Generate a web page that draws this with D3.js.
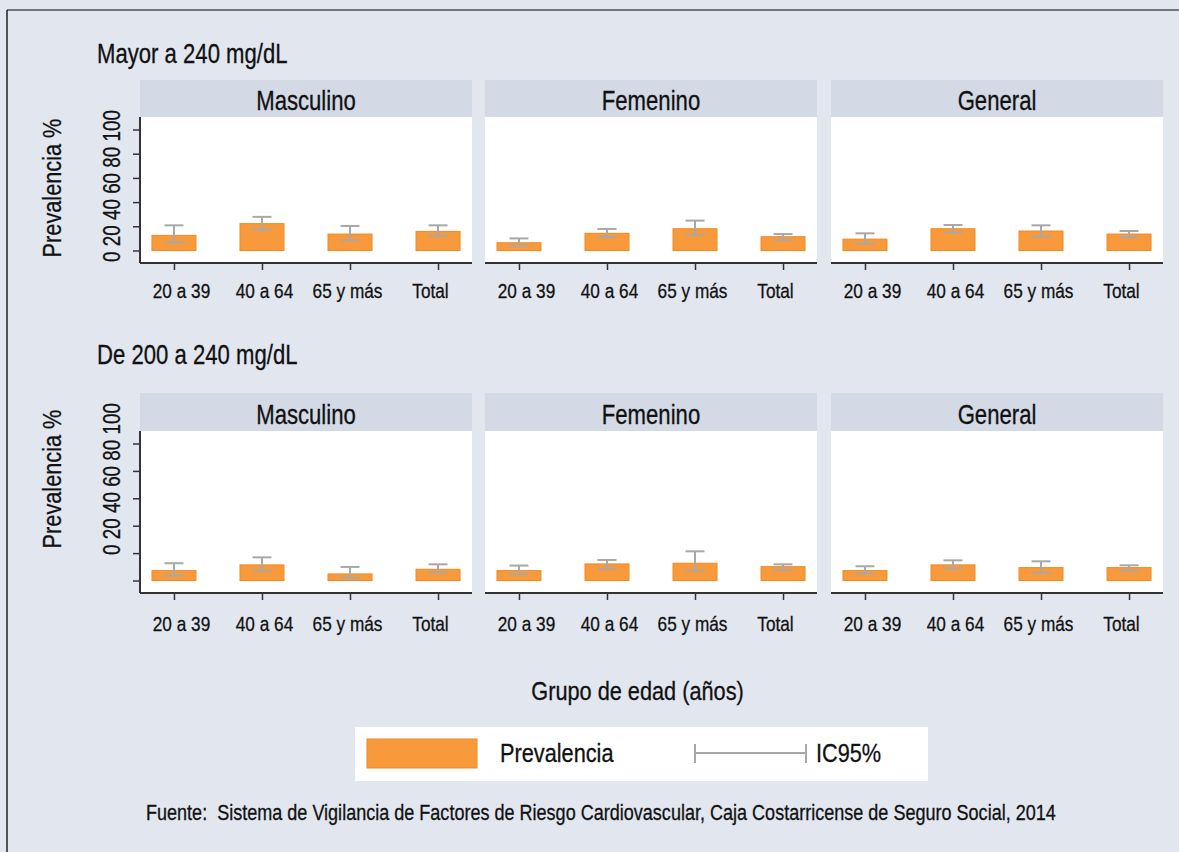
<!DOCTYPE html>
<html>
<head>
<meta charset="utf-8">
<script src="https://cdn.jsdelivr.net/npm/d3@7"></script>
<style>
  html, body { margin: 0; padding: 0; background: #e1e6ef; }
  svg { display: block; }
  text { font-family: "Liberation Sans", Arial, sans-serif; fill: #111; stroke: #111; stroke-width: 0.3px; }
</style>
</head>
<body>
<script>
// Age groups shown on the x axis of every panel
const ageGroups = ["20 a 39", "40 a 64", "65 y más", "Total"];
// Panel columns
const sexes = ["Masculino", "Femenino", "General"];
// Panel rows (cholesterol level)
const levels = ["Mayor a 240 mg/dL", "De 200 a 240 mg/dL"];
// Y tick values / labels
const yTicks = [0, 20, 40, 60, 80, 100];

// Prevalence (%) and 95% CI, one inner array per column: Masculino, Femenino, General
const mayorPrev = [[12.5, 22.2, 13.6, 15.8], [6.4, 14.2, 18.0, 11.4], [9.4, 18.0, 16.1, 13.6]];
const mayorLow  = [[6.7, 17.2, 8.3, 12.2],  [3.9, 11.1, 13.0, 8.6],  [5.8, 14.7, 11.7, 11.1]];
const mayorHigh = [[20.8, 27.8, 20.3, 20.8], [10.0, 17.8, 24.7, 13.6], [14.2, 21.1, 20.8, 16.1]];

const dePrev = [[7.2, 11.4, 4.8, 8.2], [7.2, 12.1, 12.6, 10.1], [7.2, 11.4, 9.4, 9.4]];
const deLow  = [[3.6, 7.2, 1.9, 6.0],  [4.8, 8.7, 7.2, 7.7],   [5.1, 8.9, 5.6, 7.2]];
const deHigh = [[12.6, 16.9, 9.9, 11.8], [10.9, 15.0, 21.3, 11.8], [10.4, 14.7, 14.0, 11.1]];

const rowData = [
  { prev: mayorPrev, low: mayorLow, high: mayorHigh },
  { prev: dePrev, low: deLow, high: deHigh }
];

const W = 1179, H = 852;
const BG = "#e1e6ef", STRIP = "#d3d9e5";
const BAR_FILL = "#f89a3b", BAR_STROKE = "#f08a22", CI_COLOR = "#a8a8a8";
// horizontal squeeze that turns the sans face into a narrow one
const NARROW = 0.82;

const svg = d3.select("body").append("svg").attr("width", W).attr("height", H);
svg.append("rect").attr("width", W).attr("height", H).attr("fill", BG);

// narrow text placed at (x, y), optionally rotated
function label(parent, x, y, str, size, anchor = "start", rot = 0) {
  return parent.append("text")
    .attr("transform", `translate(${x},${y}) rotate(${rot}) scale(${NARROW},1)`)
    .attr("text-anchor", anchor).attr("font-size", size)
    .attr("xml:space", "preserve").style("white-space", "pre")
    .text(str);
}

// frame lines
svg.append("line").attr("x1", 7).attr("x2", W).attr("y1", 10).attr("y2", 10)
  .attr("stroke", "#777").attr("stroke-width", 2);
svg.append("line").attr("x1", 7).attr("x2", 7).attr("y1", 10).attr("y2", H)
  .attr("stroke", "#222").attr("stroke-width", 1.5);

// panel geometry
const panelX = [140, 485, 831];
const panelW = 332;
const rows = [
  { titleY: 63, stripTop: 80, plotTop: 117, plotBottom: 263, yMid: 186, labelY: 298 },
  { titleY: 364, stripTop: 393, plotTop: 431, plotBottom: 593, yMid: 479, labelY: 631 }
];
const yPad = 12.5;

rows.forEach((r, ri) => {
  const d = rowData[ri];
  label(svg, 97, r.titleY, levels[ri], 27);

  const y = d3.scaleLinear().domain([0, 100])
    .range([r.plotBottom - yPad, r.plotTop + yPad]);

  sexes.forEach((sex, si) => {
    const x0 = panelX[si];
    const g = svg.append("g");
    // strip
    g.append("rect").attr("x", x0).attr("y", r.stripTop)
      .attr("width", panelW).attr("height", r.plotTop - r.stripTop).attr("fill", STRIP);
    label(g, x0 + panelW / 2, r.plotTop - 7, sex, 27, "middle");
    // plot region
    g.append("rect").attr("x", x0).attr("y", r.plotTop)
      .attr("width", panelW).attr("height", r.plotBottom - r.plotTop).attr("fill", "#fff");

    // bar positions, and the slightly tighter run of category labels
    const x = d3.scalePoint().domain(ageGroups).range([x0, x0 + panelW]).padding(0.386);
    const xl = d3.scalePoint().domain(ageGroups).range([x0, x0 + panelW]).padding(0.5);
    const bw = x.step() * 0.5;

    // bars
    g.selectAll("rect.bar").data(ageGroups).join("rect")
      .attr("class", "bar")
      .attr("x", a => x(a) - bw / 2)
      .attr("width", bw)
      .attr("y", (a, i) => y(d.prev[si][i]))
      .attr("height", (a, i) => y(0) - y(d.prev[si][i]))
      .attr("fill", BAR_FILL).attr("stroke", BAR_STROKE).attr("stroke-width", 1);

    // confidence intervals
    const capW = 19;
    const ci = g.selectAll("g.ci").data(ageGroups).join("g").attr("class", "ci")
      .attr("stroke", CI_COLOR).attr("stroke-width", 2);
    ci.append("line").attr("x1", a => x(a)).attr("x2", a => x(a))
      .attr("y1", (a, i) => y(d.low[si][i])).attr("y2", (a, i) => y(d.high[si][i]));
    ci.append("line").attr("x1", a => x(a) - capW / 2).attr("x2", a => x(a) + capW / 2)
      .attr("y1", (a, i) => y(d.low[si][i])).attr("y2", (a, i) => y(d.low[si][i]));
    ci.append("line").attr("x1", a => x(a) - capW / 2).attr("x2", a => x(a) + capW / 2)
      .attr("y1", (a, i) => y(d.high[si][i])).attr("y2", (a, i) => y(d.high[si][i]));

    // x axis
    const xa = g.append("g").attr("transform", `translate(0,${r.plotBottom})`)
      .call(d3.axisBottom(x).tickSize(7).tickFormat(""));
    xa.select(".domain").remove();
    xa.selectAll(".tick line").attr("stroke", "#333").attr("stroke-width", 1.5);
    g.append("line").attr("x1", x0).attr("x2", x0 + panelW)
      .attr("y1", r.plotBottom).attr("y2", r.plotBottom)
      .attr("stroke", "#333").attr("stroke-width", 2);
    ageGroups.forEach(a => label(g, xl(a), r.labelY, a, 21, "middle"));

    if (si === 0) {
      // y axis (ticks only; labels drawn as one rotated run)
      const ya = g.append("g").attr("transform", `translate(${x0},0)`)
        .call(d3.axisLeft(y).tickValues(yTicks).tickSize(7).tickFormat(""));
      ya.select(".domain").remove();
      ya.selectAll(".tick line").attr("stroke", "#333").attr("stroke-width", 1.5);
      g.append("line").attr("x1", x0).attr("x2", x0)
        .attr("y1", r.plotTop).attr("y2", r.plotBottom)
        .attr("stroke", "#333").attr("stroke-width", 2);

      label(svg, 120, r.yMid, yTicks.join(" "), 23, "middle", -90);
      label(svg, 61, r.yMid + (ri === 0 ? 2 : 0), "Prevalencia %", 26.5, "middle", -90);
    }
  });
});

// x axis title
label(svg, 637.5, 700, "Grupo de edad (años)", 26.5, "middle");

// legend
const lg = svg.append("g");
lg.append("rect").attr("x", 355).attr("y", 727).attr("width", 573).attr("height", 54).attr("fill", "#fff");
lg.append("rect").attr("x", 367).attr("y", 739).attr("width", 110).attr("height", 29)
  .attr("fill", BAR_FILL).attr("stroke", BAR_STROKE).attr("stroke-width", 1);
label(lg, 500, 762, "Prevalencia", 26.5);
lg.append("line").attr("x1", 695).attr("x2", 806).attr("y1", 753).attr("y2", 753)
  .attr("stroke", CI_COLOR).attr("stroke-width", 2);
lg.append("line").attr("x1", 695).attr("x2", 695).attr("y1", 744).attr("y2", 763)
  .attr("stroke", CI_COLOR).attr("stroke-width", 2);
lg.append("line").attr("x1", 806).attr("x2", 806).attr("y1", 744).attr("y2", 763)
  .attr("stroke", CI_COLOR).attr("stroke-width", 2);
label(lg, 816, 762, "IC95%", 26.5);

// source note
label(svg, 146, 820, "Fuente:  Sistema de Vigilancia de Factores de Riesgo Cardiovascular, Caja Costarricense de Seguro Social, 2014", 22);
</script>
</body>
</html>
